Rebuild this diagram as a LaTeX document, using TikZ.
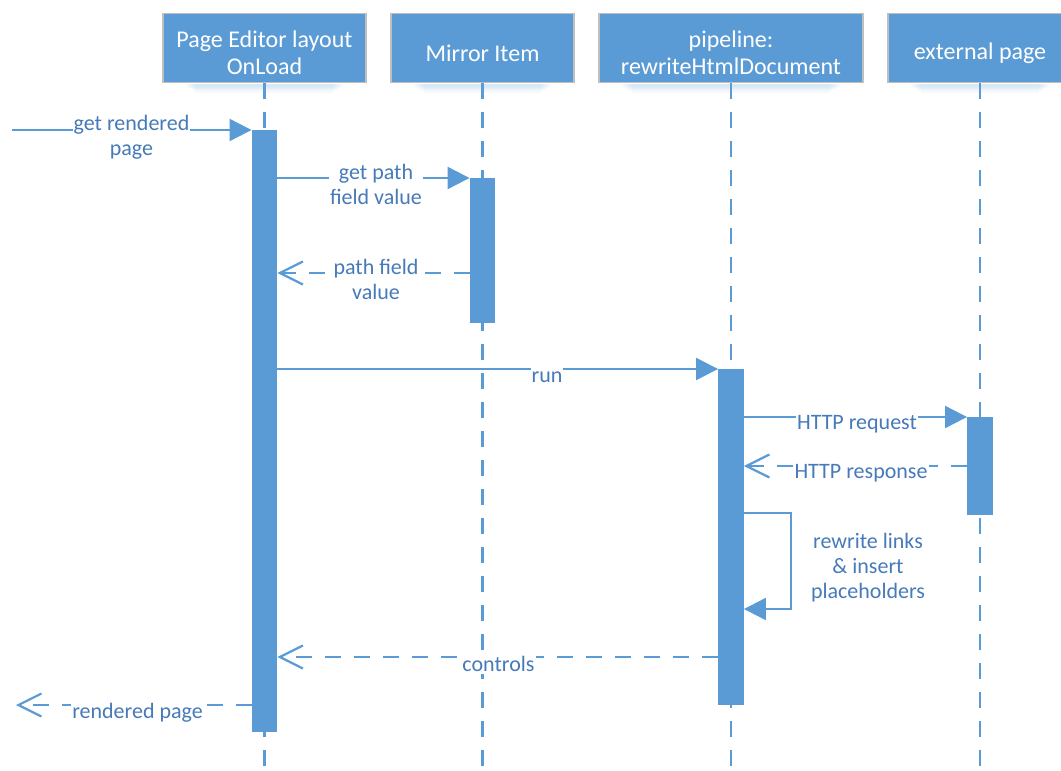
\documentclass[tikz,border=0pt]{standalone}
\usepackage{fontspec}
\setmainfont{Carlito}
\usetikzlibrary{arrows.meta,calc}
\definecolor{office}{HTML}{5B9BD5}
\definecolor{lbltext}{RGB}{70,122,184}
\definecolor{hdborder}{HTML}{BFBFBF}
\definecolor{shadowc}{HTML}{9DC3E6}
\tikzset{
  head/.style={draw=hdborder, line width=1.8pt, fill=office, inner sep=0pt,
    minimum height=69pt},
  headtext/.style={text=white, font=\fontsize{24}{27.5}\selectfont,
    align=center, inner sep=0pt, yshift=-5pt},
  bar/.style={fill=office, draw=none, minimum width=25.5pt, inner sep=0pt, anchor=north},
  lifeline/.style={draw=office, line width=2.6pt, dash pattern=on 16pt off 13pt},
  msg/.style={draw=office, line width=2.2pt},
  reply/.style={msg, dash pattern=on 16pt off 13pt},
  sync/.style={-{Triangle[length=22pt,width=22pt]}},
  open/.style={-{Straight Barb[length=23pt,width=23pt,line width=2.2pt]}},
  lbl/.style={fill=white, text=lbltext, font=\fontsize{22}{25.5}\selectfont,
    align=center, inner xsep=1pt, inner ysep=3pt, anchor=base},
}
\begin{document}
\begin{tikzpicture}[x=1pt,y=-1pt]
\useasboundingbox (0,0) rectangle (1061,771);
\clip (0,0) rectangle (1061,771);
\coordinate (bottom) at (0,771);

% lifeline heads
\node[head, minimum width=203pt, label={[headtext]center:Page Editor layout\\OnLoad}] (hd1) at (264.5,48) {};
\node[head, minimum width=183pt, label={[headtext]center:Mirror Item}] (hd2) at (482.5,48) {};
\node[head, minimum width=264pt, label={[headtext]center:pipeline:\\rewriteHtmlDocument}] (hd3) at (731,48) {};
\node[head, minimum width=184pt, label={[headtext]center:external page}] (hd4) at (980,48) {};

% soft shadows below the heads
\foreach \h in {hd1,hd2,hd3,hd4}{
  \foreach \i in {1,...,6}{
    \fill[shadowc, opacity=0.08]
      ($(\h.south west)+(22+2*\i,1)$) rectangle ($(\h.south east)+(-22-2*\i,2+1.2*\i)$);
  }
}

% lifelines
\foreach \h in {hd1,hd2,hd3,hd4}{
  \draw[lifeline] (\h.south) -- (\h.south |- bottom);
}

% activation bars
\node[bar, minimum height=602pt] (act1) at (264.5,130) {};
\node[bar, minimum height=145pt] (act2) at (482.5,178) {};
\node[bar, minimum height=336pt] (act3) at (731,369) {};
\node[bar, minimum height=98pt]  (act4) at (980,417) {};

% messages
\coordinate (caller) at (12,130);
\coordinate (back) at (16,705);
\draw[msg, sync] (caller) -- (act1.north west);
\draw[msg, sync] (act1.east |- act2.north) -- (act2.north west);
\draw[reply, open] (act2.west |- 0,273) -- (act1.east |- 0,273);
\draw[msg, sync] (act1.east |- act3.north) -- (act3.north west);
\draw[msg, sync] (act3.east |- act4.north) -- (act4.north west);
\draw[reply, open] (act4.west |- 0,466) -- (act3.east |- 0,466);
\draw[msg, sync] (act3.east |- 0,513) -- ++(47,0) -- ++(0,96) -- (act3.east |- 0,609);
\draw[reply, open] (act3.west |- 0,657) -- (act1.east |- 0,657);
\draw[reply, open] (act1.west |- back) -- (back);

% message labels (base = baseline of the last line)
\node[lbl] (l1) at (131.5,155.5) {get rendered\\page};
\node[lbl] (l2) at (376,204.5) {get path\\field value};
\node[lbl] (l3) at (376,299.5) {path field\\value};
\node[lbl] (l4) at (547,382) {run};
\node[lbl] (l5) at (857,429) {HTTP request};
\node[lbl] (l6) at (861,478) {HTTP response};
\node[lbl, fill=none, font=\fontsize{22}{25}\selectfont] (l7) at (868,598) {rewrite links\\\& insert\\placeholders};
\node[lbl] (l8) at (498.5,671) {controls};
\node[lbl] (l9) at (137.5,718) {rendered page};
\end{tikzpicture}
\end{document}
